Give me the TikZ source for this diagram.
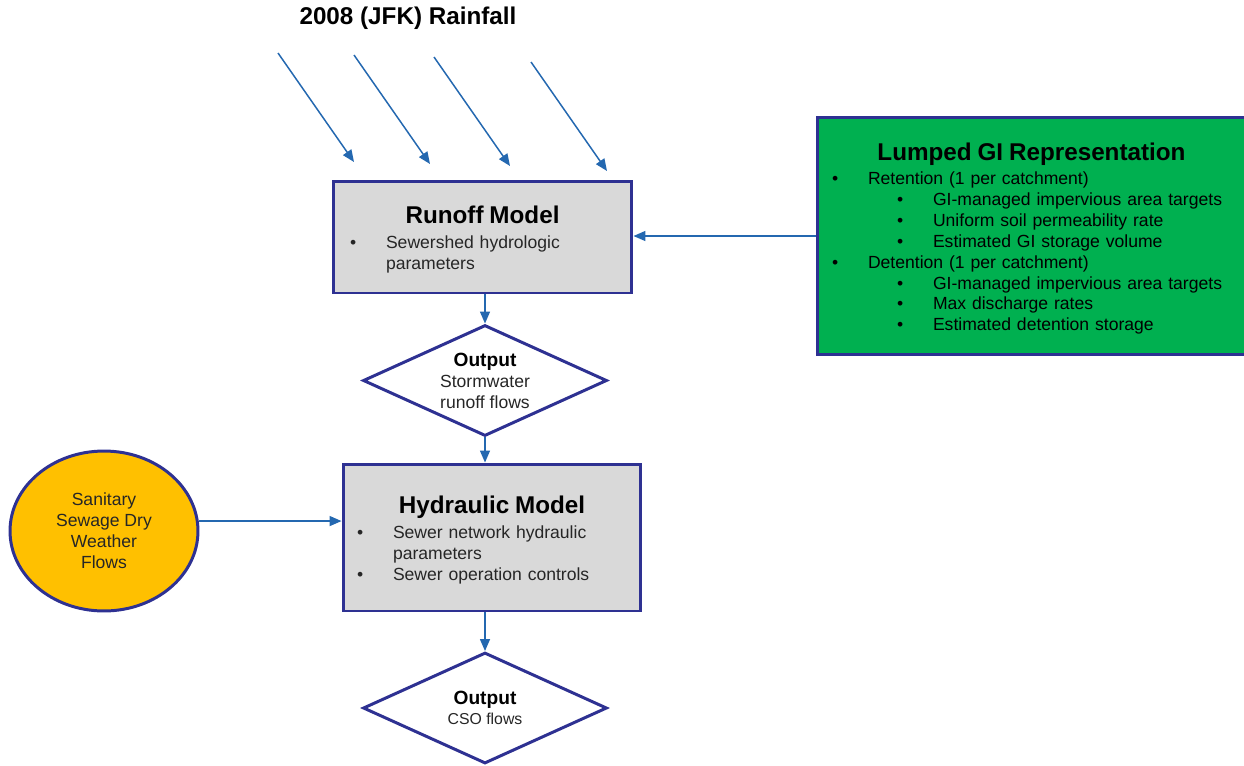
\documentclass[tikz,border=0pt]{standalone}
\usepackage{fontspec}
\setmainfont{Liberation Sans}
\usetikzlibrary{shapes.geometric,arrows.meta}
\definecolor{frame}{RGB}{46,49,146}
\definecolor{flowblue}{RGB}{36,104,176}
\definecolor{boxgray}{RGB}{217,217,217}
\definecolor{gigreen}{RGB}{0,176,80}
\definecolor{sanorange}{RGB}{255,192,0}
\definecolor{ink}{RGB}{38,38,38}
\newcommand\itm[2]{\par\noindent\hspace*{#1}\makebox[0.72cm][l]{\textbullet}#2}
\newcommand\cnt[2]{\par\noindent\hspace*{#1}\hspace*{0.72cm}#2}
\newcommand\hdr[1]{{\centering\fontsize{13.8}{14}\selectfont\bfseries\color{black}#1\par}\vspace{2pt}}
\newcommand\tail{\par\vspace{-2.8pt}}
\begin{document}
\begin{tikzpicture}[x=0.02cm,y=-0.02cm,
  model/.style={draw=frame,line width=1.7pt,fill=boxgray,inner sep=0pt,align=left,text=ink},
  output/.style={diamond,draw=frame,line width=1.7pt,fill=white,inner sep=0pt,aspect=2.2,
    minimum width=4.88cm,minimum height=2.22cm,align=center,text=ink},
  flow/.style={draw=flowblue,line width=0.85pt,-{Triangle[length=2.4mm,width=2mm]}},
  font=\fontsize{10}{11.9}\selectfont]
\useasboundingbox (0,0) rectangle (1244,765);
\node[font=\fontsize{13.8}{14}\selectfont\bfseries] (title) at (408,18) {2008 (JFK) Rainfall};
\node[model,text width=5.98cm,minimum height=2.24cm] (runoff) at (482.5,237)
  {\hdr{Runoff Model}\itm{0.34cm}{Sewershed hydrologic}\cnt{0.34cm}{parameters}\tail};
\node[model,fill=gigreen,text=black,text width=8.58cm,minimum height=4.76cm] (gi) at (1031.5,236)
  {\hdr{Lumped GI Representation}\itm{0.3cm}{Retention (1 per catchment)}
   \itm{1.6cm}{GI-managed impervious area targets}\itm{1.6cm}{Uniform soil permeability rate}
   \itm{1.6cm}{Estimated GI storage volume}\itm{0.3cm}{Detention (1 per catchment)}
   \itm{1.6cm}{GI-managed impervious area targets}\itm{1.6cm}{Max discharge rates}
   \itm{1.6cm}{Estimated detention storage}\tail};
\node[output] (out1) at (485,380.5) {{\bfseries\fontsize{10.9}{12}\selectfont\color{black}Output}\\Stormwater\\runoff flows};
\node[model,text width=5.96cm,minimum height=2.94cm] (hydraulic) at (492,537.5)
  {\hdr{Hydraulic Model}\itm{0.28cm}{Sewer network hydraulic}\cnt{0.28cm}{parameters}
   \itm{0.28cm}{Sewer operation controls}\tail};
\node[output,font=\fontsize{9}{11}\selectfont] (out2) at (485,708) {{\bfseries\fontsize{10.9}{12}\selectfont\color{black}Output}\\CSO flows};
\node[ellipse,draw=frame,line width=1.7pt,fill=sanorange,minimum width=3.76cm,minimum height=3.2cm,
  inner sep=0pt,align=center,text=ink] (sanitary) at (104,531) {Sanitary\\Sewage Dry\\Weather\\Flows};
\foreach \i/\sx/\sy in {1/278/53,2/354/55,3/434/57,4/531/62}{
  \path (\sx,\sy) coordinate (rain\i) ++(76,109) coordinate (drop\i);
  \draw[flow] (rain\i) -- (drop\i);}
\draw[flow] (gi.west) -- (gi.west -| runoff.east);
\draw[flow] (out1.north |- runoff.south) -- (out1.north);
\draw[flow] (out1.south) -- (out1.south |- hydraulic.north);
\draw[flow] (out2.north |- hydraulic.south) -- (out2.north);
\draw[flow] (sanitary.6) -- (sanitary.6 -| hydraulic.west);
\end{tikzpicture}
\end{document}
